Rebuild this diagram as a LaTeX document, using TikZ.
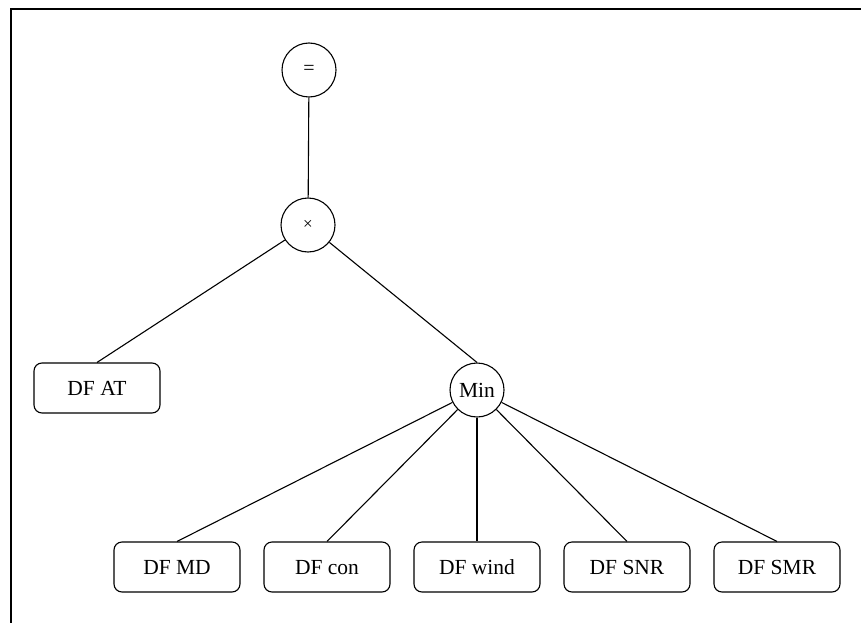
\documentclass[tikz,border=0pt]{standalone}
\usepackage{fontspec}
\setmainfont{Liberation Serif}

\begin{document}
\begin{tikzpicture}[x=1pt, y=-1pt,
    op/.style={draw, circle, line width=1.1pt, minimum size=54pt, inner sep=0pt},
    df/.style={draw, rounded corners=8pt, line width=1.1pt, minimum width=126pt,
      minimum height=50pt, text height=14pt, text depth=0pt,
      font=\fontsize{21.5}{25}\selectfont},
    edge/.style={line width=1.1pt}]
    \useasboundingbox (0,0) rectangle (861,623);
    \draw [line width=1.6pt] (11,623) -- (11,9) -- (861,9);

    \node [op, font=\fontsize{20}{22}\selectfont] (eq) at (309,70) {=};
    \node [op, font=\fontsize{17}{20}\selectfont] (times) at (308,225) {×};
    \node [op, font=\fontsize{21.5}{25}\selectfont] (min) at (477,390) {Min};
    \node [df] (at) at (97,388) {DF AT};

    \foreach \x/\n/\t in {177/md/DF MD, 327/con/DF con, 477/wind/DF wind,
      627/snr/DF SNR, 777/smr/DF SMR} {
      \node [df] (\n) at (\x,567) {\t};
      \draw [edge] (min) -- (\n.north);
    }

    \draw [edge] (eq) -- (times);
    \draw [edge] (times) -- (at.north);
    \draw [edge] (times) -- (min.north);
  \end{tikzpicture}
\end{document}
